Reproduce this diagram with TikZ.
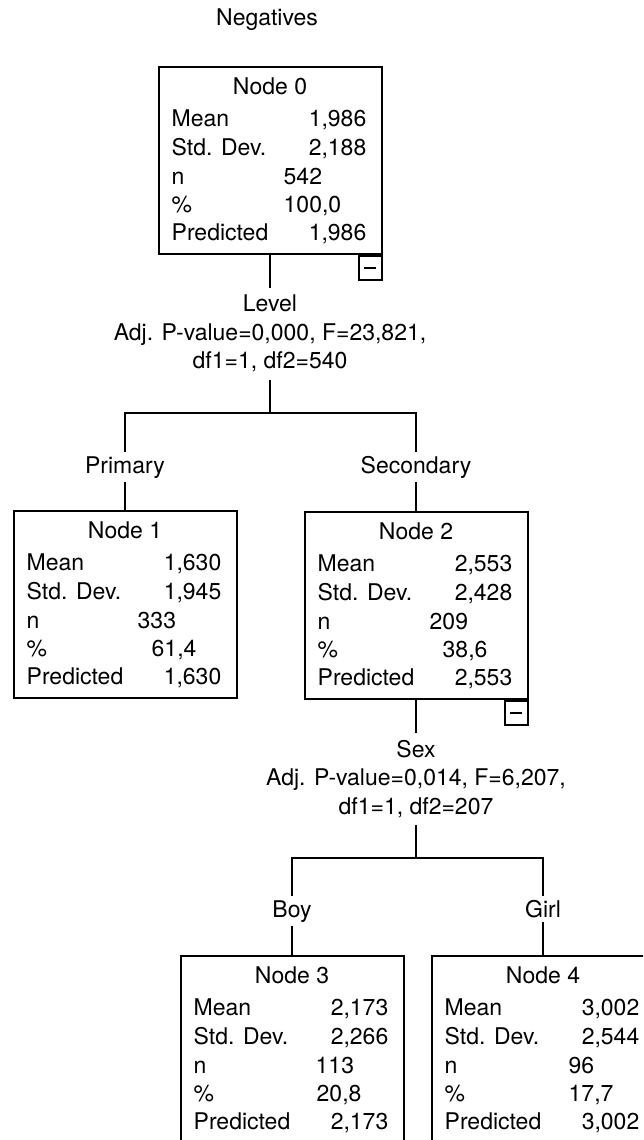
\documentclass[tikz,border=0pt]{standalone}
\usepackage{fontspec}
\setmainfont{TeX Gyre Heros}
\usetikzlibrary{calc}

% Rows of statistics inside one tree node box:
% #1 box name, #2 title, #3 mean, #4 std. dev., #5 n, #6 x offset of n,
% #7 percent, #8 x offset of percent, #9 predicted
\newcommand\statrows[9]{%
  \node[txt, anchor=base] (#1-title) at ($(#1.north)+(0,28)$) {#2};
  \node[txt, anchor=base west] (#1-meanlbl) at ($(#1.north west)+(14,60)$) {Mean};
  \node[txt, anchor=base east] (#1-mean) at ($(#1.north east)+(-16,60)$) {#3};
  \node[txt, anchor=base west] (#1-sdlbl) at ($(#1.north west)+(14,89)$) {Std. Dev.};
  \node[txt, anchor=base east] (#1-sd) at ($(#1.north east)+(-16,89)$) {#4};
  \node[txt, anchor=base west] (#1-nlbl) at ($(#1.north west)+(14,118)$) {n};
  \node[txt, anchor=base west] (#1-n) at ($(#1.north west)+(#6,118)$) {#5};
  \node[txt, anchor=base west] (#1-pctlbl) at ($(#1.north west)+(14,146)$) {\%};
  \node[txt, anchor=base west] (#1-pct) at ($(#1.north west)+(#8,146)$) {#7};
  \node[txt, anchor=base west] (#1-predlbl) at ($(#1.north west)+(14,174)$) {Predicted};
  \node[txt, anchor=base east] (#1-pred) at ($(#1.north east)+(-16,174)$) {#9};
}

\begin{document}
\begin{tikzpicture}[x=1pt, y=-1pt,
  every node/.style={font=\fontsize{23}{28.5}\selectfont, text=black},
  statbox/.style={draw=black, line width=2pt, minimum width=223pt,
    minimum height=187pt, inner sep=0pt},
  togglebox/.style={draw=black, line width=1.6pt, fill=white,
    minimum width=23pt, minimum height=24pt, inner sep=0pt},
  txt/.style={inner sep=0pt},
  splitlbl/.style={align=center, inner sep=7pt, anchor=north},
  branchlbl/.style={inner sep=4pt, anchor=base},
  link/.style={draw=black, line width=2pt}
]
\useasboundingbox (0,0) rectangle (643,1140);
\fill[white] (0,0) rectangle (643,1140);
\clip (0,0) rectangle (643,1140);

% title
\node (title) at (267,20) {Negatives};

% node boxes
\node[statbox] (n0) at (270,160.5) {};
\node[statbox] (n1) at (125,604.5) {};
\node[statbox] (n2) at (416,605.5) {};
\node[statbox] (n3) at (292,1049.5) {};
\node[statbox] (n4) at (543,1049.5) {};

\statrows{n0}{Node 0}{1,986}{2,188}{542}{126}{100,0}{126}{1,986}
\statrows{n1}{Node 1}{1,630}{1,945}{333}{125}{61,4}{139}{1,630}
\statrows{n2}{Node 2}{2,553}{2,428}{209}{126}{38,6}{139}{2,553}
\statrows{n3}{Node 3}{2,173}{2,266}{113}{136}{20,8}{137}{2,173}
\statrows{n4}{Node 4}{3,002}{2,544}{96}{138}{17,7}{138}{3,002}

% collapse toggles
\node[togglebox, anchor=north east] (t0) at (n0.south east) {\rule{12pt}{1.7pt}};
\node[togglebox, anchor=north east] (t2) at (n2.south east) {\rule{12pt}{1.7pt}};

% split labels
\node[splitlbl] (s0) at (270,288) {Level\\Adj. P-value=0,000, F=23,821,\\df1=1, df2=540};
\node[splitlbl] (s2) at (416,733) {Sex\\Adj. P-value=0,014, F=6,207,\\df1=1, df2=207};

% branch labels
\node[branchlbl] (l1) at (125,473) {Primary};
\node[branchlbl] (l2) at (416,473) {Secondary};
\node[branchlbl] (l3) at (292,917) {Boy};
\node[branchlbl] (l4) at (543,917) {Girl};

% bars
\coordinate (b0) at (270,413);
\coordinate (b0l) at (125,413);
\coordinate (b0r) at (416,413);
\coordinate (b2) at (416,858);
\coordinate (b2l) at (292,858);
\coordinate (b2r) at (543,858);

% connectors
\draw[link] (n0.south) -- (s0.north);
\draw[link] (s0.south) -- (b0);
\draw[link] (l1.north) -- (b0l) -- (b0r) -- (l2.north);
\draw[link] (l1.south) -- (n1.north);
\draw[link] (l2.south) -- (n2.north);
\draw[link] (n2.south) -- (s2.north);
\draw[link] (s2.south) -- (b2);
\draw[link] (l3.north) -- (b2l) -- (b2r) -- (l4.north);
\draw[link] (l3.south) -- (n3.north);
\draw[link] (l4.south) -- (n4.north);
\end{tikzpicture}
\end{document}
